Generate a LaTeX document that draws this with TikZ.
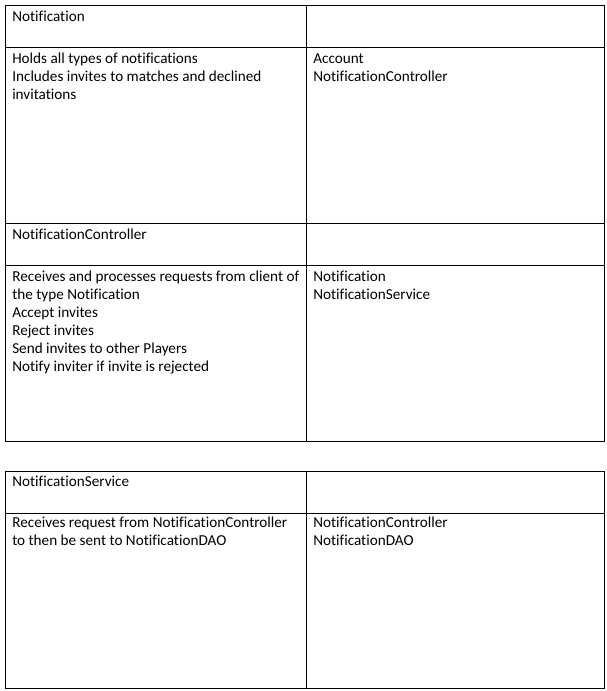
\documentclass[tikz,border=0pt]{standalone}
\usepackage{fontspec}
\setmainfont[Ligatures={NoCommon}]{Carlito}
\newcommand{\fl}{\rule{0pt}{10pt}}
\tikzset{
  cell/.style={anchor=north west, inner sep=0pt, align=left, font=\fontsize{11.4}{13.5}\selectfont, text=black},
  grid/.style={draw=black, line width=0.75pt}
}
\begin{document}
\begin{tikzpicture}[x=0.75pt,y=-0.75pt]
\useasboundingbox (0,0) rectangle (606,691);
% table 1
\draw[grid] (5,6) rectangle (604,441);
\draw[grid] (306,6) -- (306,441);
\draw[grid] (5,48) -- (604,48);
\draw[grid] (5,224) -- (604,224);
\draw[grid] (5,265) -- (604,265);
% table 2
\draw[grid] (5,471.5) rectangle (604,688);
\draw[grid] (306,471.5) -- (306,688);
\draw[grid] (5,513) -- (604,513);
% texts (y = baseline - 13.33)
\node[cell] (h1) at (12,7.7) {\fl Notification};
\node[cell] (d1) at (12,49.7) {\fl Holds all types of notifications\\Includes invites to matches and declined\\invitations};
\node[cell] (c1) at (313,49.7) {\fl Account\\NotificationController};
\node[cell] (h2) at (12,225.7) {\fl NotificationController};
\node[cell] (d2) at (12,267.7) {\fl Receives and processes requests from client of\\the type Notification\\Accept invites\\Reject invites\\Send invites to other Players\\Notify inviter if invite is rejected};
\node[cell] (c2) at (313,267.7) {\fl Notification\\NotificationService};
\node[cell] (h3) at (12,472.7) {\fl NotificationService};
\node[cell] (d3) at (12,513.7) {\fl Receives request from NotificationController\\to then be sent to NotificationDAO};
\node[cell] (c3) at (313,513.7) {\fl NotificationController\\NotificationDAO};
\end{tikzpicture}
\end{document}
